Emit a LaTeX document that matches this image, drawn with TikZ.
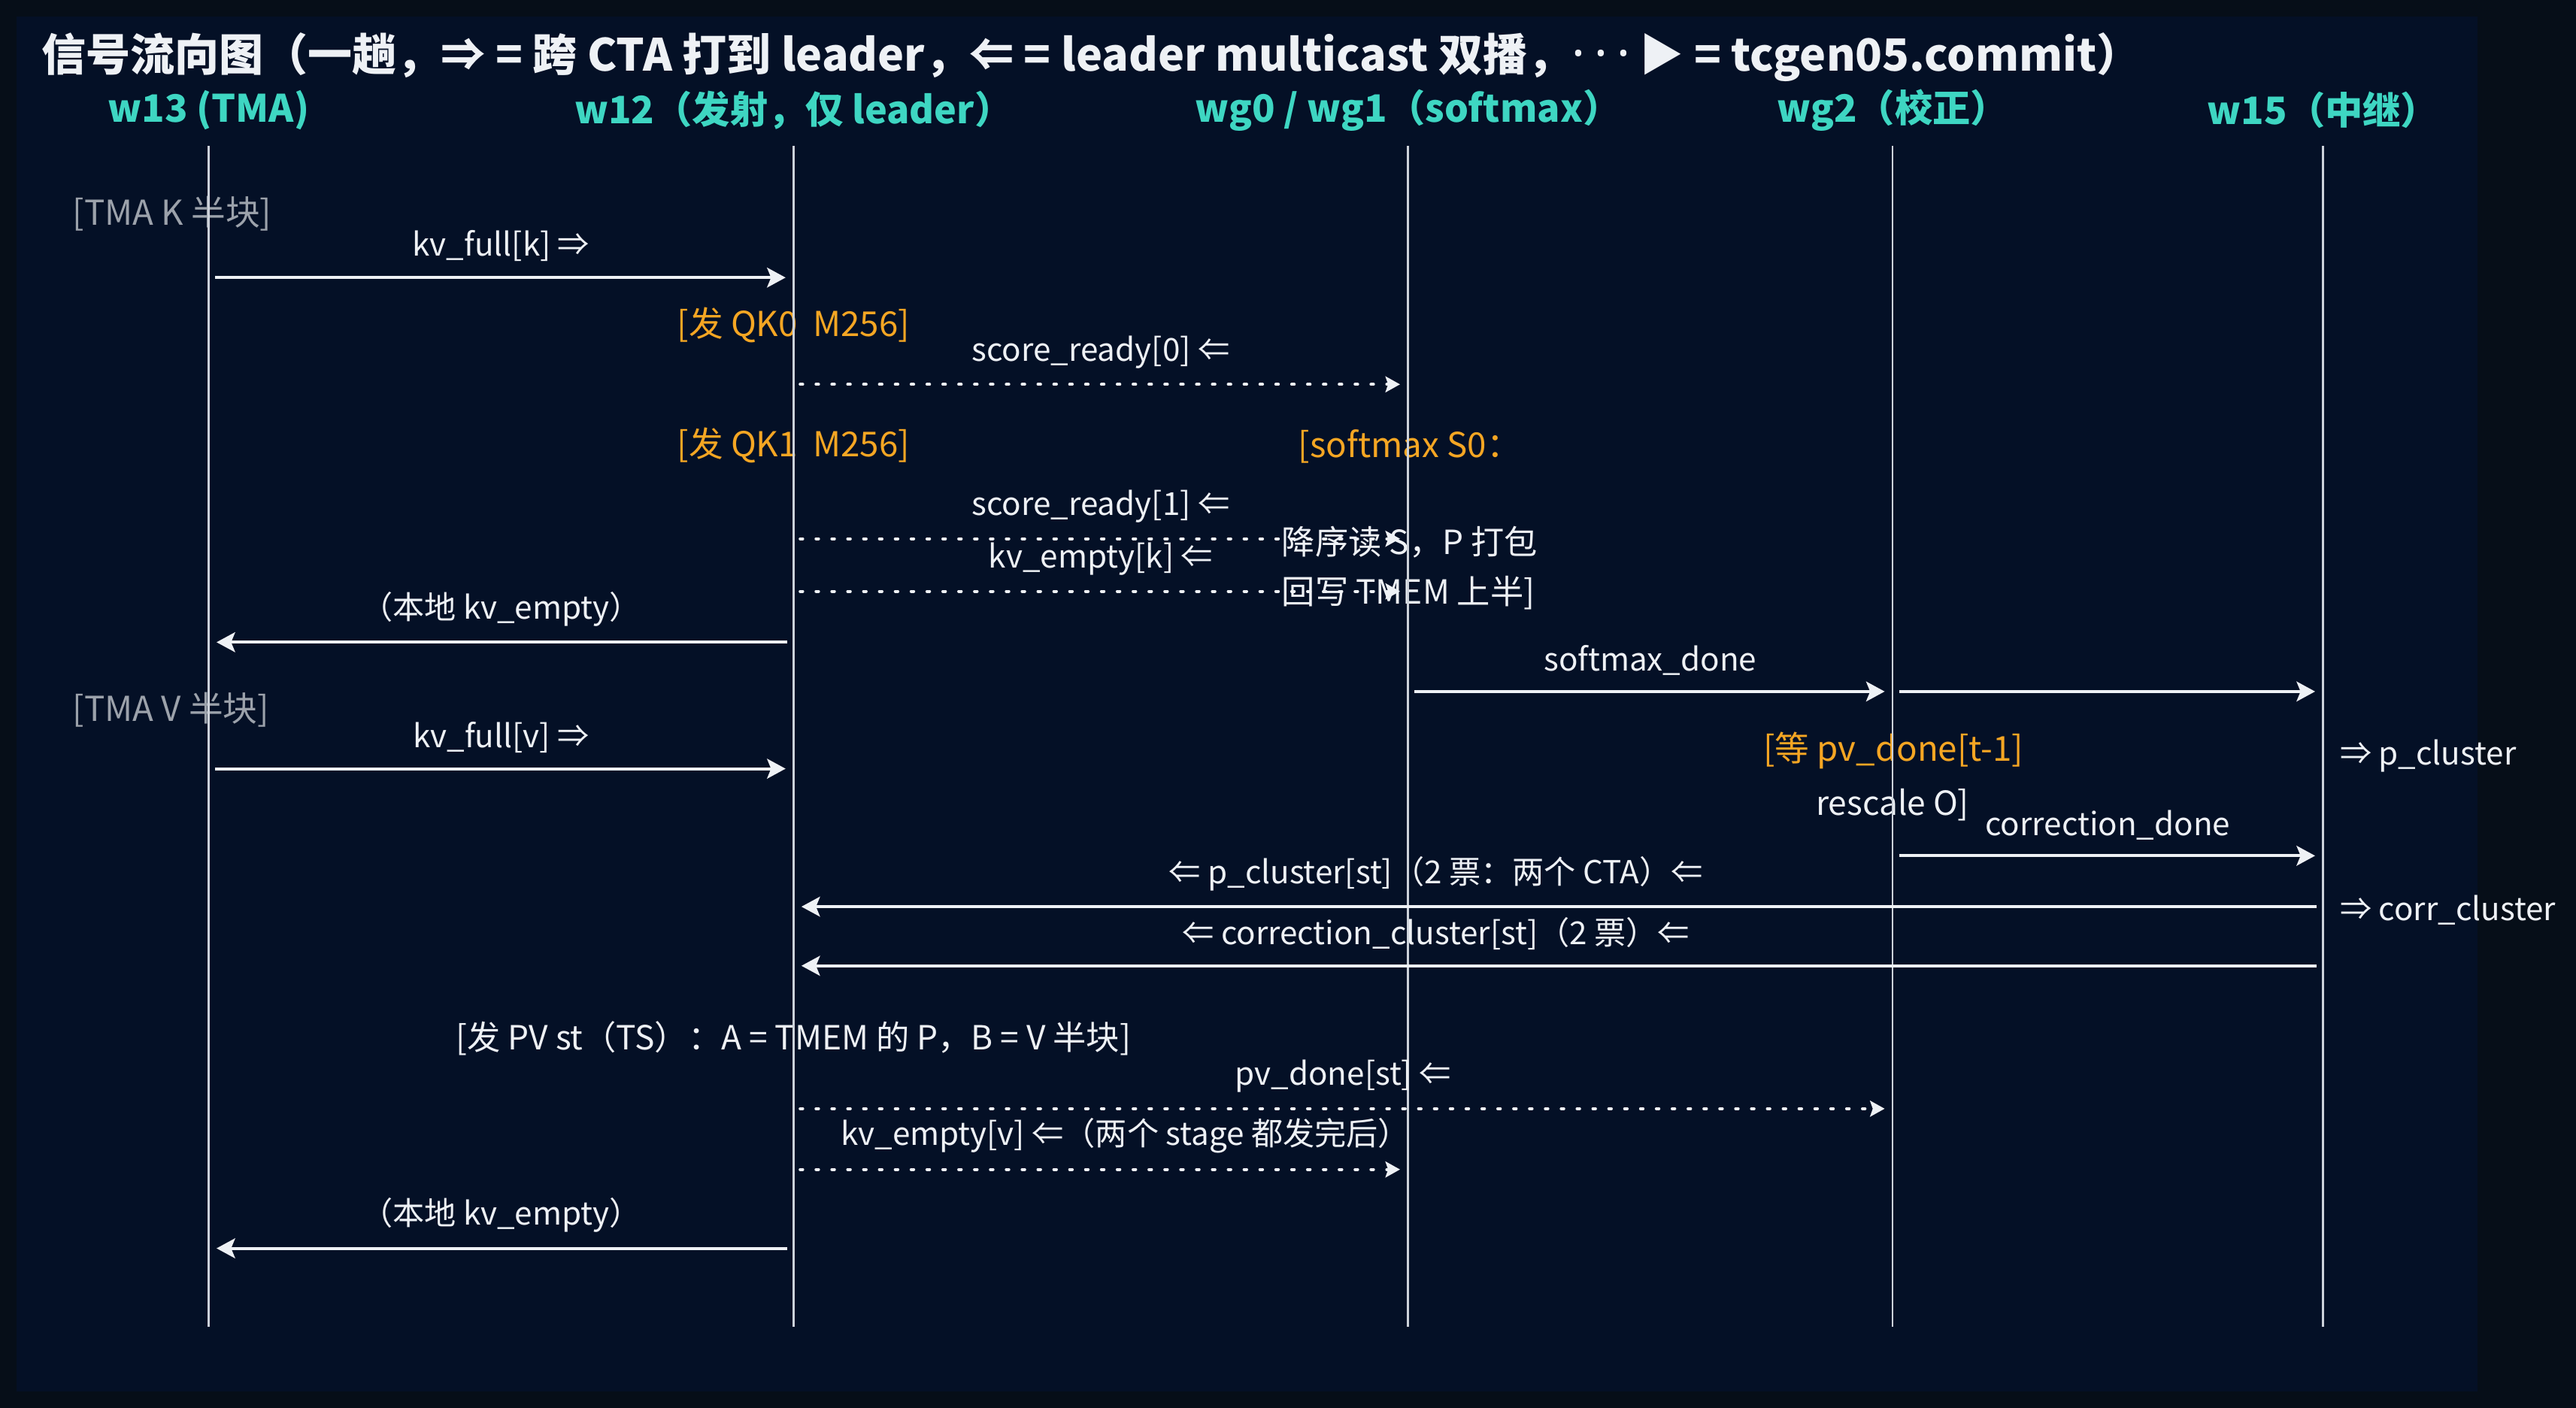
\documentclass[tikz,border=0pt]{standalone}
\usepackage{fontspec}
\setmainfont{Noto Sans CJK SC}
\newfontfamily\dotsfont{Noto Sans}
\usetikzlibrary{arrows.meta}

\definecolor{bgout}{HTML}{060E18}
\definecolor{bgin}{HTML}{041026}
\definecolor{teal}{HTML}{3ED6C2}
\definecolor{amber}{HTML}{F5A623}
\definecolor{ink}{HTML}{EEF1F5}
\definecolor{dim}{HTML}{9CA2AB}
\definecolor{rule}{HTML}{CDD2DA}

\begin{document}
\begin{tikzpicture}[x=0.02185cm,y=-0.02185cm,
            inner sep=0pt,
            title/.style={text=ink,font=\fontsize{16.8}{20}\selectfont\bfseries,anchor=west},
            head/.style={text=teal,font=\fontsize{14.3}{17}\selectfont\bfseries},
            txt/.style={text=ink,font=\fontsize{12}{14}\selectfont},
            memo/.style={text=ink,font=\fontsize{12.6}{15}\selectfont},
            warn/.style={text=amber,font=\fontsize{13}{15}\selectfont},
            gray/.style={text=dim,font=\fontsize{13}{15}\selectfont},
            lbl/.style={txt,above=5.5pt},
            life/.style={draw=rule,line width=0.7pt},
            sig/.style={draw=ink,line width=1.1pt,shorten <=2.5pt,shorten >=3pt,
                -{Stealth[length=7pt,width=7.5pt,inset=1.5pt]}},
            commit/.style={sig,dash pattern=on 1pt off 5pt,line cap=round,
                -{Stealth[length=5.5pt,width=6pt,inset=1pt,line cap=butt]}}]
    % background
    \fill[bgout] (0,0) rectangle (1568,857);
    \fill[bgin] (10,10) rectangle (1508,847);
    \useasboundingbox (0,0) rectangle (1568,857);

    \node[title] (ttl) at (25,35) {信号流向图（一趟，⇒ = 跨 CTA 打到 leader，⇐ = leader multicast 双播，{\dotsfont\fontsize{19}{20}\selectfont ·\hspace{3.5pt}·\hspace{3.5pt}·\hspace{3.5pt}}▶ = tcgen05.commit）};

    % lifelines
    \node[head] (w13) at (127,67) {w13 (TMA)};
    \node[head] (w12) at (483,67) {w12（发射，仅 leader）};
    \node[head] (wg0) at (857,67) {wg0 / wg1（softmax）};
    \node[head] (wg2) at (1152,67) {wg2（校正）};
    \node[head] (w15) at (1414,67) {w15（中继）};
    \coordinate (top) at (0,89);
    \coordinate (bot) at (0,808);

    % notes on the lifelines
    \node[gray,anchor=west] (tk) at (44,130) {[TMA K 半块]};
    \node[warn] (qk0) at (483,198) {[发 QK0\ \ M256]};
    \node[warn] (qk1) at (483,271) {[发 QK1\ \ M256]};
    \node[warn,anchor=west] (sm1) at (790,272) {[softmax S0：};
    \node[memo,anchor=west] (sm2) at (780,330) {降序读 S，P 打包};
    \node[memo,anchor=west] (sm3) at (780,361) {回写 TMEM 上半]};
    \node[gray,anchor=west] (tv) at (44,432) {[TMA V 半块]};
    \node[warn,anchor=west] (rs1) at (1073,457) {[等 pv\_done[t-1]};
    \node[memo,anchor=west] (rs2) at (1105,490) {rescale O]};
    \node[txt,anchor=west] (pc) at (1424,460) {⇒ p\_cluster};
    \node[txt,anchor=west] (cc) at (1424,554) {⇒ corr\_cluster};
    \node[memo] (pv) at (483,632) {[发 PV st（TS）：A = TMEM 的 P，B = V 半块]};

    \foreach \l in {w13,w12,wg0,wg2,w15}
        \draw[life] (\l |- top) -- (\l |- bot);

    % rows of the signals
    \foreach \r/\y in {r1/169,r2/234,r3/328,r4/360,r5/391,r6/421,r7/468,
                       r8/521,r9/552,r10/588,r11/675,r12/712,r13/760}
        \coordinate (\r) at (0,\y);

    \path (w13 |- r1) edge[sig] node[lbl] {kv\_full[k] ⇒} (w12 |- r1)
          (w12 |- r2) edge[commit] node[lbl] {score\_ready[0] ⇐} (wg0 |- r2)
          (w12 |- r3) edge[commit] node[lbl] {score\_ready[1] ⇐} (wg0 |- r3)
          (w12 |- r4) edge[commit] node[lbl] {kv\_empty[k] ⇐} (wg0 |- r4)
          (w12 |- r5) edge[sig] node[lbl] {（本地 kv\_empty）} (w13 |- r5)
          (wg0 |- r6) edge[sig] node[lbl] {softmax\_done} (wg2 |- r6)
          (wg2 |- r6) edge[sig] (w15 |- r6)
          (w13 |- r7) edge[sig] node[lbl] {kv\_full[v] ⇒} (w12 |- r7)
          (wg2 |- r8) edge[sig] node[lbl] {correction\_done} (w15 |- r8)
          (w15 |- r9) edge[sig] node[lbl,pos=0.58] {⇐ p\_cluster[st]（2 票：两个 CTA）⇐} (w12 |- r9)
          (w15 |- r10) edge[sig] node[lbl,pos=0.58] {⇐ correction\_cluster[st]（2 票）⇐} (w12 |- r10)
          (w12 |- r11) edge[commit] node[lbl] {pv\_done[st] ⇐} (wg2 |- r11)
          (w12 |- r12) edge[commit] node[lbl,pos=0.54] {kv\_empty[v] ⇐（两个 stage 都发完后）} (wg0 |- r12)
          (w12 |- r13) edge[sig] node[lbl] {（本地 kv\_empty）} (w13 |- r13);
\end{tikzpicture}
\end{document}
